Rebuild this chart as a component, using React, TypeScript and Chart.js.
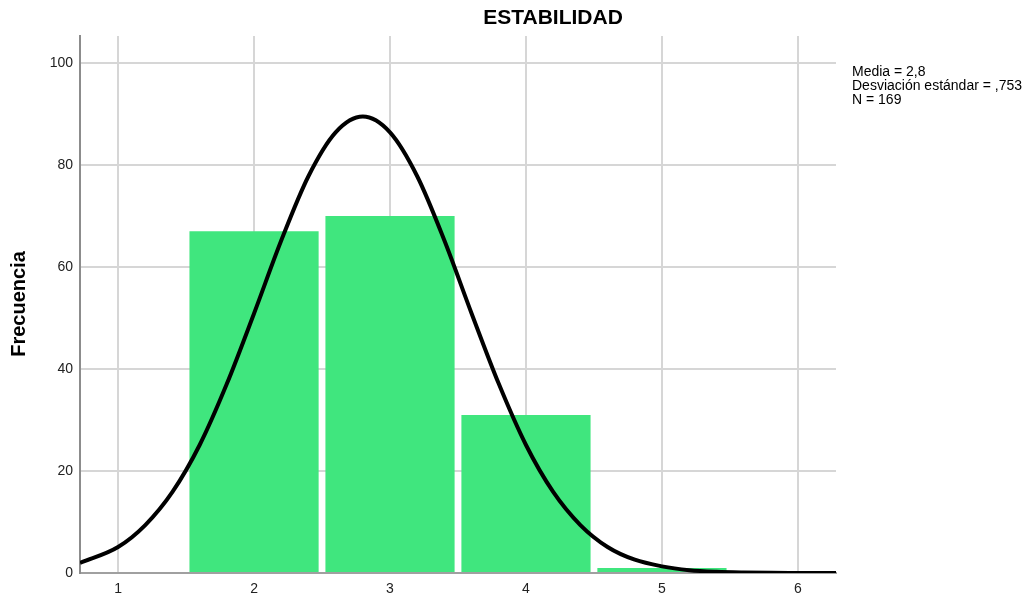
import React, { useEffect, useRef } from "react";
import { Chart, registerables } from "chart.js";

Chart.register(...registerables);

const title = "ESTABILIDAD";
const yTitle = "Frecuencia";
const statsLines = ["Media = 2,8", "Desviación estándar = ,753", "N = 169"];

const binCenters = [2, 3, 4, 5];
const binCounts = [67, 70, 31, 1];

const curveX = [0.72, 1.0, 1.2, 1.4, 1.6, 1.8, 2.0, 2.2, 2.4, 2.6, 2.8, 3.0, 3.2, 3.4, 3.6, 3.8, 4.0, 4.2, 4.4, 4.6, 4.8, 5.0, 5.2, 5.4, 5.6, 5.8, 6.0, 6.28];
const curveY = [2.0, 5.1, 9.4, 15.9, 25.1, 37.1, 50.9, 65.2, 77.8, 86.4, 89.5, 86.4, 77.8, 65.2, 50.9, 37.1, 25.1, 15.9, 9.4, 5.1, 2.6, 1.3, 0.56, 0.23, 0.09, 0.03, 0.01, 0.0];

const xTicks = [1, 2, 3, 4, 5, 6];
const yTicks = [0, 20, 40, 60, 80, 100];

export default function App() {
  const ref = useRef<HTMLCanvasElement | null>(null);

  useEffect(() => {
    if (!ref.current) return;
    const textPlugin = {
      id: "texts",
      afterDraw(chart: any) {
        const ctx = chart.ctx;
        ctx.save();
        ctx.fillStyle = "#000";
        ctx.textAlign = "center";
        ctx.textBaseline = "middle";
        ctx.font = "bold 21px 'Liberation Sans', Arial, sans-serif";
        ctx.fillText(title, 553, 18);
        ctx.font = "14px 'Liberation Sans', Arial, sans-serif";
        ctx.textAlign = "left";
        statsLines.forEach((s, i) => ctx.fillText(s, 852, 72 + i * 14));
        ctx.translate(19, 304);
        ctx.rotate(-Math.PI / 2);
        ctx.textAlign = "center";
        ctx.font = "bold 20px 'Liberation Sans', Arial, sans-serif";
        ctx.fillText(yTitle, 0, 0);
        ctx.restore();
      },
    };

    const chart = new Chart(ref.current, {
      type: "bar",
      data: {
        datasets: [
          {
            type: "line",
            data: curveX.map((x, i) => ({ x, y: curveY[i] })),
            borderColor: "#000",
            borderWidth: 4,
            pointRadius: 0,
            fill: false,
            cubicInterpolationMode: "monotone",
            order: 0,
          } as any,
          {
            type: "bar",
            data: binCenters.map((x, i) => ({ x, y: binCounts[i] })),
            backgroundColor: "rgb(64,230,126)",
            borderWidth: 0,
            barPercentage: 0.95,
            categoryPercentage: 1,
            order: 1,
          } as any,
        ],
      },
      options: {
        animation: false,
        responsive: true,
        maintainAspectRatio: false,
        layout: { padding: { top: 36, right: 190, left: 0, bottom: 0 } },
        plugins: { legend: { display: false }, tooltip: { enabled: false }, title: { display: false } },
        scales: {
          x: {
            type: "linear",
            min: 0.72,
            max: 6.28,
            offset: false,
            afterBuildTicks: (s: any) => { s.ticks = xTicks.map((v) => ({ value: v })); },
            afterFit: (s: any) => { s.height = 25; },
            ticks: { color: "#222", font: { size: 14, family: "'Liberation Sans', Arial, sans-serif" }, padding: 8, maxRotation: 0, autoSkip: false, callback: (v: any) => String(v) },
            grid: { color: "#d6d6d6", lineWidth: 2, drawTicks: false, offset: false },
            border: { color: "#a0a0a0", width: 2 },
          },
          y: {
            type: "linear",
            min: 0,
            max: 105.3,
            afterBuildTicks: (s: any) => { s.ticks = yTicks.map((v) => ({ value: v })); },
            afterFit: (s: any) => { s.width = 80; },
            ticks: { color: "#222", font: { size: 14, family: "'Liberation Sans', Arial, sans-serif" }, padding: 7, callback: (v: any) => String(v) },
            grid: { color: "#d6d6d6", lineWidth: 2, drawTicks: false },
            border: { color: "#8c8c8c", width: 2 },
          },
        },
      } as any,
      plugins: [textPlugin],
    });
    return () => chart.destroy();
  }, []);

  return (
    <div style={{ position: "fixed", left: 0, top: 0, width: 1026, height: 598, background: "#fff" }}>
      <canvas ref={ref} />
    </div>
  );
}
